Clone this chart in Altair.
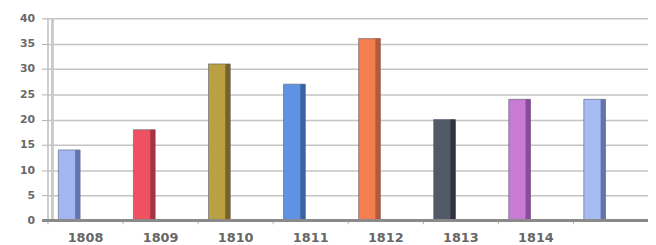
import altair as alt
import pandas as pd

years = ["1808", "1809", "1810", "1811", "1812", "1813", "1814", "1815"]
values = [14, 18, 31, 27, 36, 20, 24, 24]
face_colors = ["#a2b6f2", "#ee5262", "#b9a043", "#5e92e2", "#f47e4e", "#525a68", "#c87ad4", "#a8bcf4"]
side_colors = ["#6474b0", "#a43444", "#76622a", "#3c62a2", "#b25a3a", "#30343e", "#8a4c98", "#6474aa"]
y_ticks = [0, 5, 10, 15, 20, 25, 30, 35, 40]

df = pd.DataFrame({"year": years, "value": values, "face": face_colors, "side": side_colors})

W, H = 608, 205

x = alt.X(
    "year:N",
    sort=years,
    scale=alt.Scale(paddingInner=0, paddingOuter=0),
    axis=alt.Axis(
        title=None, labelAngle=0, domain=False, grid=False,
        ticks=True, tickBand="extent", tickSize=3, tickColor="#aaaaaa",
        labelExpr="datum.value == '1815' ? '' : datum.label",
        labelFont="DejaVu Sans", labelFontSize=13, labelFontWeight="bold",
        labelColor="#666666", labelPadding=8,
    ),
)
y = alt.Y(
    "value:Q",
    scale=alt.Scale(domain=[0, 40], nice=False),
    axis=alt.Axis(
        title=None, values=y_ticks, labelOverlap=False,
        grid=True, gridColor="#c4c4c4", gridWidth=1.5,
        domain=True, domainColor="#bdbdbd", domainWidth=1.5,
        ticks=True, tickSize=6, tickColor="#b0b0b0",
        labelFont="DejaVu Sans", labelFontSize=11, labelFontWeight="bold",
        labelColor="#6a6a6a", labelPadding=7,
    ),
)

bars = alt.Chart(df).encode(x=x, y=y)
faces = bars.mark_bar(width=22, xOffset=-16, stroke="#555a70", strokeWidth=0.6).encode(
    color=alt.Color("face:N", scale=None)
)
sides = bars.mark_bar(width=5, xOffset=-7.5).encode(
    color=alt.Color("side:N", scale=None)
)
wall = alt.Chart(df).mark_rule(color="#c8c8c8", strokeWidth=1.5).encode(
    x=alt.value(5), y=alt.value(0), y2=alt.value(H)
)
base = alt.Chart(df).mark_rule(color="#8a8a8a", strokeWidth=2.5).encode(
    x=alt.value(-5), x2=alt.value(W), y=alt.value(H)
)

chart = alt.layer(faces, sides, wall, base).properties(
    width=W, height=H,
    autosize=alt.AutoSizeParams(type="none"),
    padding={"left": 40, "top": 9, "right": 0, "bottom": 23},
    background="white",
).configure_view(stroke=None)

chart.save("out.html", embed_options={"renderer": "svg", "actions": False})
